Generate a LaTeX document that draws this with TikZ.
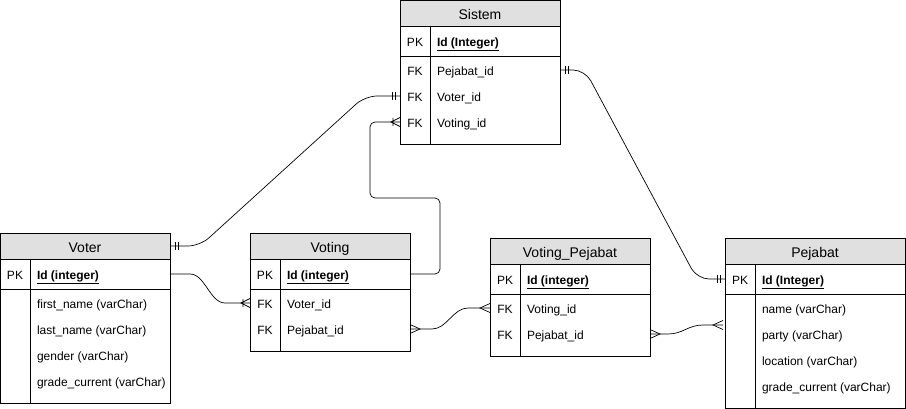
\documentclass[tikz,border=0pt]{standalone}
\usepackage{fontspec}
\setmainfont{Liberation Sans}
\definecolor{hdrgray}{RGB}{224,224,224}
\tikzset{
 base/.style={inner sep=0pt, outer sep=0pt},
 hdr/.style={base, draw, fill=hdrgray, minimum height=26pt, anchor=north west, font=\fontsize{14}{16}\selectfont, text height=12.4pt, text depth=0pt, line width=0.9pt},
 frame/.style={line width=0.9pt},
 rowbox/.style={base, minimum height=26pt},
 keytxt/.style={base, font=\fontsize{12}{14}\selectfont, text height=8.6pt, text depth=2.5pt, yshift=-2.2pt},
 fldtxt/.style={keytxt, anchor=west},
 rel/.style={line width=0.7pt},
 mone/.pic={\draw[rel] (5,-4) -- (5,4) (8,-4) -- (8,4);},
 cmany/.pic={\draw[rel] (0,-4.5) -- (10,0) -- (0,4.5);},
 conemany/.pic={\draw[rel] (0,-4.5) -- (9,0) -- (0,4.5) (7,-4) -- (7,4);},
}
\newcommand\erow[7]{%
 \node[rowbox, minimum width=#3pt] (#1) at ({#2+#3/2},#5) {};
 \node[keytxt] at ({#2+15},#5) {#6};
 \node[fldtxt] at ({#4+7},#5) {#7};}
\newcommand\erframe[7]{%
 \node[hdr, minimum width=#3pt] (#1) at (#2,#4) {#7};
 \draw[frame] ({#2},{#4+26}) rectangle ({#2+#3},#5);
 \draw[frame] (#6,{#4+26}) -- (#6,#5);
 \draw[frame] (#2,{#4+56}) -- ({#2+#3},{#4+56});}
\begin{document}
\begin{tikzpicture}[x=1pt,y=-1pt]
\useasboundingbox (0,0) rectangle (906,409);
% Sistem
\erframe{sisH}{400}{160}{0}{144}{430}{Sistem}
\erow{sisPK}{400}{160}{430}{41}{PK}{\underline{\textbf{Id (Integer)}}}
\erow{sisPej}{400}{160}{430}{70}{FK}{Pejabat\_id}
\erow{sisVoter}{400}{160}{430}{96}{FK}{Voter\_id}
\erow{sisVoting}{400}{160}{430}{122}{FK}{Voting\_id}
% Voter
\erframe{voterH}{0}{170}{233}{403}{30}{Voter}
\erow{voterPK}{0}{170}{30}{274}{PK}{\underline{\textbf{Id (integer)}}}
\erow{voterR1}{0}{170}{30}{303}{}{first\_name (varChar)}
\erow{voterR2}{0}{170}{30}{329}{}{last\_name (varChar)}
\erow{voterR3}{0}{170}{30}{355}{}{gender (varChar)}
\erow{voterR4}{0}{170}{30}{381}{}{grade\_current (varChar)}
% Voting
\erframe{votingH}{250}{160}{233}{351}{280}{Voting}
\erow{votingPK}{250}{160}{280}{274}{PK}{\underline{\textbf{Id (integer)}}}
\erow{votingVoter}{250}{160}{280}{303}{FK}{Voter\_id}
\erow{votingPej}{250}{160}{280}{329}{FK}{Pejabat\_id}
% Voting_Pejabat
\erframe{vpH}{490}{160}{238}{356}{520}{Voting\_Pejabat}
\erow{vpPK}{490}{160}{520}{279}{PK}{\underline{\textbf{Id (integer)}}}
\erow{vpVoting}{490}{160}{520}{308}{FK}{Voting\_id}
\erow{vpPej}{490}{160}{520}{334}{FK}{Pejabat\_id}
% Pejabat
\erframe{pejH}{725}{180}{238}{408}{755}{Pejabat}
\erow{pejPK}{725}{180}{755}{279}{PK}{\underline{\textbf{Id (Integer)}}}
\erow{pejR1}{725}{180}{755}{308}{}{name (varChar)}
\erow{pejR2}{725}{180}{755}{334}{}{party (varChar)}
\erow{pejR3}{725}{180}{755}{360}{}{location (varChar)}
\erow{pejR4}{725}{180}{755}{386}{}{grade\_current (varChar)}
\coordinate (pejIn) at (723,325);
% connectors
\draw[rel, rounded corners=12pt] (sisPej.east) -- ++(25,0) -- ([xshift=-28pt]pejPK.west) -- (pejPK.west);
\pic at (sisPej.east) {mone};
\pic[xscale=-1] at (pejPK.west) {mone};

\draw[rel, rounded corners=12pt] (voterH.east) -- ++(30,0) -- ([xshift=-35pt]sisVoter.west) -- (sisVoter.west);
\pic at (voterH.east) {mone};
\pic[xscale=-1] at (sisVoter.west) {mone};

\draw[rel, rounded corners=5pt] (votingPK.east) -- ++(30,0) -- ++(0,-76) -- ++(-70,0) |- (sisVoting.west);
\pic[xscale=-1] at (sisVoting.west) {conemany};

\draw[rel] (voterPK.east) -- ++(20,0) .. controls +(15,0) and +(-15,0) .. ([xshift=-25pt]votingVoter.west) -- (votingVoter.west);
\pic[xscale=-1] at (votingVoter.west) {conemany};

\draw[rel] (votingPej.east) -- ++(22,0) .. controls +(15,0) and +(-15,0) .. ([xshift=-22pt]vpVoting.west) -- (vpVoting.west);
\pic at (votingPej.east) {cmany};
\pic[xscale=-1] at (vpVoting.west) {cmany};

\draw[rel] (vpPej.east) -- ++(18,0) .. controls +(15,0) and +(-15,0) .. ([xshift=-20pt]pejIn) -- (pejIn);
\pic at (vpPej.east) {cmany};
\pic[xscale=-1] at (pejIn) {cmany};
\end{tikzpicture}
\end{document}
